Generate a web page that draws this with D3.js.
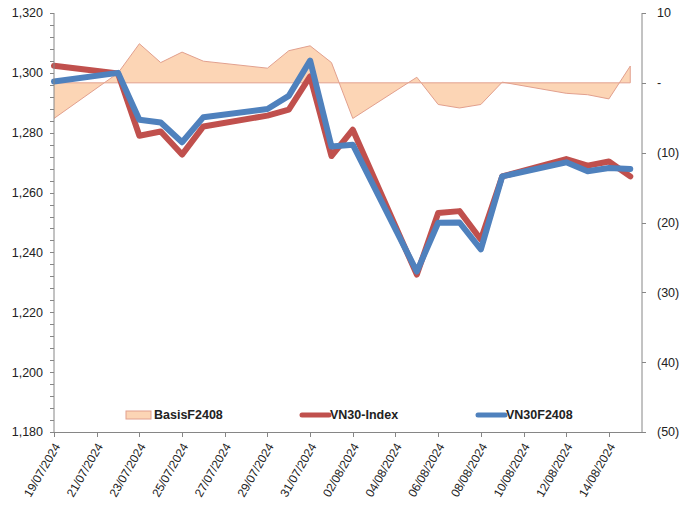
<!DOCTYPE html>
<html>
<head>
<meta charset="utf-8">
<script src="https://cdn.jsdelivr.net/npm/d3@7/dist/d3.min.js"></script>
<style>
html,body{margin:0;padding:0;background:#fff;}
svg{display:block;font-family:"Liberation Sans",Arial,sans-serif;}
</style>
</head>
<body>
<svg id="chart" width="690" height="507"></svg>
<script>
const dates = ["2024-07-19","2024-07-22","2024-07-23","2024-07-24","2024-07-25","2024-07-26",
  "2024-07-29","2024-07-30","2024-07-31","2024-08-01","2024-08-02","2024-08-05","2024-08-06",
  "2024-08-07","2024-08-08","2024-08-09","2024-08-12","2024-08-13","2024-08-14","2024-08-15"];
const vn30Index = [1302.4,1299.8,1279.0,1280.4,1272.7,1282.1,1285.7,1287.7,1298.8,1272.2,1281.0,
  1232.6,1253.2,1253.8,1244.3,1265.4,1271.2,1269.0,1270.4,1265.4];
const vn30F2408 = [1297.1,1300.0,1284.3,1283.4,1276.8,1285.2,1287.9,1292.3,1304.1,1275.4,1276.0,
  1233.6,1249.9,1250.0,1241.0,1265.4,1270.1,1267.1,1268.2,1267.9];
const basisF2408 = [-5.1,1.4,5.6,2.9,4.4,3.1,2.1,4.6,5.3,2.9,-5.1,0.8,-3.1,-3.6,-3.1,0.1,-1.5,-1.7,-2.3,2.4];
const leftTicks = [1180,1200,1220,1240,1260,1280,1300,1320];
const rightTicks = [-50,-40,-30,-20,-10,0,10];
const seriesNames = ["BasisF2408","VN30-Index","VN30F2408"];

const svg = d3.select("#chart");
const parse = d3.utcParse("%Y-%m-%d");
const X = dates.map(parse);
const d0 = X[0];
const DAY = 864e5;
const x = d3.scaleUtc().domain([d0, new Date(+d0 + 27.55*DAY)]).range([54, 642]);
const yL = d3.scaleLinear().domain([1180,1320]).range([432,13]);
const yR = d3.scaleLinear().domain([-50,10]).range([432,13]);

const axisColor = "#868686";
const textColor = "#222";

// area (basis)
const area = d3.area().x((d,i)=>x(X[i])).y0(yR(0)).y1(d=>yR(d));
svg.append("path").datum(basisF2408).attr("d", area)
  .attr("fill","#FCD5B5").attr("stroke","none");
const outline = d3.line().x((d,i)=>x(X[i])).y(d=>yR(d));
svg.append("path").datum(basisF2408).attr("d", outline)
  .attr("fill","none").attr("stroke","#E2A08E").attr("stroke-width",1);
svg.append("line").attr("x1",x(X[0])).attr("x2",x(X[X.length-1]))
  .attr("y1",yR(0)).attr("y2",yR(0)).attr("stroke","#E2A08E").attr("stroke-width",1);
svg.append("line").attr("x1",x(X[X.length-1])).attr("x2",x(X[X.length-1]))
  .attr("y1",yR(0)).attr("y2",yR(basisF2408[basisF2408.length-1])).attr("stroke","#E2A08E").attr("stroke-width",1);

// lines
const lineL = d3.line().x((d,i)=>x(X[i])).y(d=>yL(d));
svg.append("path").datum(vn30Index).attr("d", lineL)
  .attr("fill","none").attr("stroke","#C0504D").attr("stroke-width",6)
  .attr("stroke-linejoin","round").attr("stroke-linecap","round");
svg.append("path").datum(vn30F2408).attr("d", lineL)
  .attr("fill","none").attr("stroke","#4F81BD").attr("stroke-width",6)
  .attr("stroke-linejoin","round").attr("stroke-linecap","round");

// left axis
const gL = svg.append("g").attr("transform","translate(54,0)");
gL.append("line").attr("y1",13).attr("y2",432).attr("stroke",axisColor);
const minor = d3.range(1180,1321,4);
gL.selectAll(".mt").data(minor).join("line").attr("x1",-4).attr("x2",0)
  .attr("y1",d=>Math.round(yL(d))+0.5).attr("y2",d=>Math.round(yL(d))+0.5).attr("stroke",axisColor);
gL.selectAll(".lt").data(leftTicks).join("text")
  .attr("x",-11).attr("y",d=>yL(d)).attr("dy","0.35em").attr("text-anchor","end")
  .attr("font-size","12.5px").attr("fill",textColor).text(d=>d3.format(",")(d));

// right axis
const gR = svg.append("g").attr("transform","translate(642,0)");
gR.append("line").attr("y1",13).attr("y2",432).attr("stroke",axisColor);
gR.selectAll(".rt").data(rightTicks).join("line").attr("x1",0).attr("x2",4)
  .attr("y1",d=>Math.round(yR(d))+0.5).attr("y2",d=>Math.round(yR(d))+0.5).attr("stroke",axisColor);
gR.selectAll(".rtt").data(rightTicks).join("text")
  .attr("x",15).attr("y",d=>yR(d)).attr("dy","0.35em").attr("text-anchor","start")
  .attr("font-size","12.5px").attr("fill",textColor)
  .text(d=> d>0 ? String(d) : d===0 ? "-" : "(" + Math.abs(d) + ")");

// x axis
const xt = d3.utcDay.range(d0, new Date(+d0 + 27*DAY), 2);
const gX = svg.append("g");
gX.append("line").attr("x1",54).attr("x2",642).attr("y1",432.5).attr("y2",432.5).attr("stroke",axisColor);
gX.selectAll(".xt").data(xt).join("line")
  .attr("x1",d=>Math.round(x(d))+0.5).attr("x2",d=>Math.round(x(d))+0.5)
  .attr("y1",432).attr("y2",437).attr("stroke",axisColor);
const fmt = d3.utcFormat("%d/%m/%Y");
gX.selectAll(".xl").data(xt).join("text")
  .attr("transform",d=>`translate(${x(d)+3},${444}) rotate(-60)`)
  .attr("dy","0.35em").attr("text-anchor","end")
  .attr("font-size","12px").attr("fill",textColor).text(d=>fmt(d));

// legend
const lg = svg.append("g");
lg.append("rect").attr("x",126).attr("y",411).attr("width",25).attr("height",8)
  .attr("fill","#FCD5B5").attr("stroke","#E2A08E");
lg.append("text").attr("x",154).attr("y",415).attr("dy","0.35em")
  .attr("font-size","12.5px").attr("font-weight","bold").attr("fill",textColor).text(seriesNames[0]);
lg.append("line").attr("x1",302).attr("x2",329).attr("y1",415).attr("y2",415)
  .attr("stroke","#C0504D").attr("stroke-width",5).attr("stroke-linecap","round");
lg.append("text").attr("x",330).attr("y",415).attr("dy","0.35em")
  .attr("font-size","12.5px").attr("font-weight","bold").attr("fill",textColor).text(seriesNames[1]);
lg.append("line").attr("x1",478).attr("x2",505).attr("y1",415).attr("y2",415)
  .attr("stroke","#4F81BD").attr("stroke-width",5).attr("stroke-linecap","round");
lg.append("text").attr("x",506).attr("y",415).attr("dy","0.35em")
  .attr("font-size","12.5px").attr("font-weight","bold").attr("fill",textColor).text(seriesNames[2]);
</script>
</body>
</html>
